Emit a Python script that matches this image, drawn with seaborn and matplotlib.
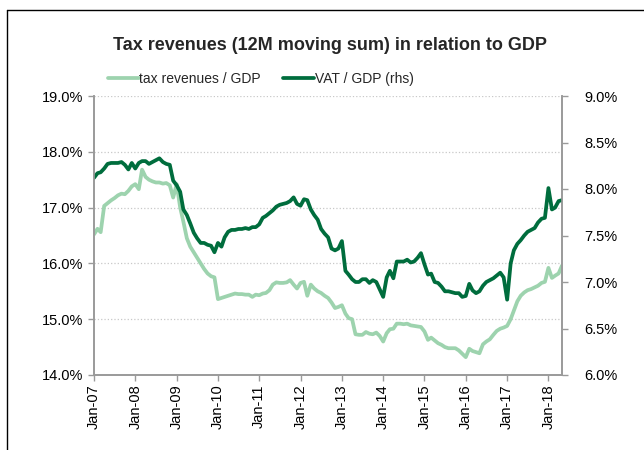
import pandas as pd
import seaborn as sns
import matplotlib.dates as mdates
from matplotlib import pyplot as plt
from matplotlib.ticker import FuncFormatter, MultipleLocator

months = pd.date_range('2007-01-01', periods=137, freq='MS')

# tax revenues / GDP, % (left axis)
tax_gdp = [
    16.52, 16.62, 16.56, 17.03, 17.08, 17.13, 17.17, 17.22, 17.25, 17.24, 17.30, 17.38,
    17.42, 17.33, 17.68, 17.55, 17.50, 17.47, 17.45, 17.45, 17.43, 17.44, 17.40, 17.18,
    17.42, 17.00, 16.75, 16.45, 16.30, 16.20, 16.10, 16.00, 15.90, 15.82, 15.77, 15.75,
    15.36, 15.38, 15.40, 15.42, 15.44, 15.46, 15.45, 15.45, 15.44, 15.44, 15.40, 15.44,
    15.43, 15.46, 15.47, 15.52, 15.62, 15.66, 15.65, 15.65, 15.66, 15.70, 15.62, 15.55,
    15.65, 15.67, 15.42, 15.62, 15.55, 15.50, 15.47, 15.42, 15.38, 15.30, 15.20, 15.22,
    15.25, 15.10, 15.02, 15.00, 14.73, 14.72, 14.72, 14.77, 14.74, 14.73, 14.76, 14.70,
    14.60, 14.75, 14.82, 14.83, 14.92, 14.92, 14.91, 14.92, 14.89, 14.88, 14.87, 14.86,
    14.78, 14.63, 14.67, 14.62, 14.57, 14.54, 14.50, 14.48, 14.48, 14.48, 14.44, 14.38,
    14.32, 14.47, 14.43, 14.41, 14.39, 14.55, 14.60, 14.64, 14.72, 14.79, 14.83, 14.85,
    14.88, 15.00, 15.15, 15.32, 15.42, 15.48, 15.52, 15.54, 15.57, 15.60, 15.65, 15.67,
    15.92, 15.74, 15.78, 15.82, 15.96,
]

# VAT / GDP, % (right axis)
vat_gdp = [
    8.12, 8.17, 8.18, 8.22, 8.27, 8.28, 8.28, 8.28, 8.29, 8.26, 8.21, 8.28,
    8.22, 8.28, 8.30, 8.30, 8.27, 8.29, 8.31, 8.33, 8.29, 8.27, 8.26, 8.09,
    8.04, 7.97, 7.78, 7.72, 7.63, 7.53, 7.47, 7.42, 7.42, 7.40, 7.39, 7.32,
    7.42, 7.38, 7.48, 7.54, 7.56, 7.56, 7.57, 7.57, 7.58, 7.57, 7.59, 7.59,
    7.62, 7.69, 7.71, 7.74, 7.77, 7.81, 7.83, 7.84, 7.85, 7.87, 7.91, 7.84,
    7.82, 7.89, 7.88, 7.78, 7.72, 7.67, 7.57, 7.52, 7.48, 7.36, 7.34, 7.36,
    7.44, 7.12, 7.08, 7.03, 7.00, 7.00, 7.03, 7.03, 6.99, 7.02, 7.00, 6.92,
    6.84, 7.05, 7.12, 7.04, 7.22, 7.22, 7.22, 7.24, 7.21, 7.22, 7.26, 7.31,
    7.19, 7.08, 7.09, 7.00, 6.99, 6.95, 6.90, 6.90, 6.89, 6.88, 6.88, 6.84,
    6.85, 6.98, 6.91, 6.88, 6.90, 6.96, 7.00, 7.02, 7.04, 7.07, 7.10, 7.05,
    6.81, 7.20, 7.34, 7.41, 7.45, 7.50, 7.54, 7.56, 7.58, 7.64, 7.68, 7.69,
    8.01, 7.78, 7.80, 7.87, 7.88,
]

df = pd.DataFrame({'month': months, 'tax': tax_gdp, 'vat': vat_gdp})

light = '#9dd3ae'
dark = '#006d3d'
spine_c = '#9a9a9a'

sns.set_style('white')
plt.rcParams['font.family'] = ['Liberation Sans', 'DejaVu Sans']

fig = plt.figure(figsize=(6.44, 4.5), dpi=100)
ax = fig.add_axes([94 / 644, 1 - 375 / 450, (562 - 94) / 644, (375 - 96) / 450])
ax2 = ax.twinx()

sns.lineplot(data=df, x='month', y='tax', ax=ax, color=light, lw=2.7, label='tax revenues / GDP', legend=False)
sns.lineplot(data=df, x='month', y='vat', ax=ax2, color=dark, lw=2.7, label='VAT / GDP (rhs)', legend=False)

ax.set_ylim(14, 19)
ax2.set_ylim(6, 9)
ax.yaxis.set_major_locator(MultipleLocator(1))
ax2.yaxis.set_major_locator(MultipleLocator(0.5))
pct = FuncFormatter(lambda v, p: f'{v:.1f}%')
ax.yaxis.set_major_formatter(pct)
ax2.yaxis.set_major_formatter(pct)

ax.set_xlim(months[0], months[-1])
ax.xaxis.set_major_locator(mdates.YearLocator(month=1))
ax.xaxis.set_major_formatter(mdates.DateFormatter('%b-%y'))
plt.setp(ax.get_xticklabels(), rotation=90)

ax.grid(axis='y', color='#c8c8c8', linestyle=':', lw=0.9)
ax.set_xlabel('')
ax.set_ylabel('')
ax2.set_ylabel('')

for a in (ax, ax2):
    for s in a.spines.values():
        s.set_color(spine_c)
        s.set_linewidth(1.2)
    a.spines['top'].set_visible(False)
    a.tick_params(labelsize=10.5, colors='black', length=4, width=1, color=spine_c)
ax.tick_params(axis='y', left=True, right=False, pad=4)
ax.tick_params(axis='x', bottom=True, pad=3)
ax2.tick_params(axis='y', right=True, pad=12)

h1, l1 = ax.get_legend_handles_labels()
h2, l2 = ax2.get_legend_handles_labels()
fig.legend(h1 + h2, l1 + l2, loc='center', bbox_to_anchor=(0.405, 1 - 79 / 450), ncol=2,
           frameon=False, fontsize=10, handlelength=2.2, handletextpad=0.05, columnspacing=1.6)

fig.text(0.512, 1 - 45 / 450, 'Tax revenues (12M moving sum) in relation to GDP',
         ha='center', va='center', fontsize=13, fontweight='bold')

# outer frame of the chart box
fig.add_artist(plt.Line2D([7 / 644, 1], [1 - 10 / 450, 1 - 10 / 450], color='black', lw=1))
fig.add_artist(plt.Line2D([7 / 644, 7 / 644], [0, 1 - 10 / 450], color='black', lw=1))

fig.savefig('out.png', dpi=100)
